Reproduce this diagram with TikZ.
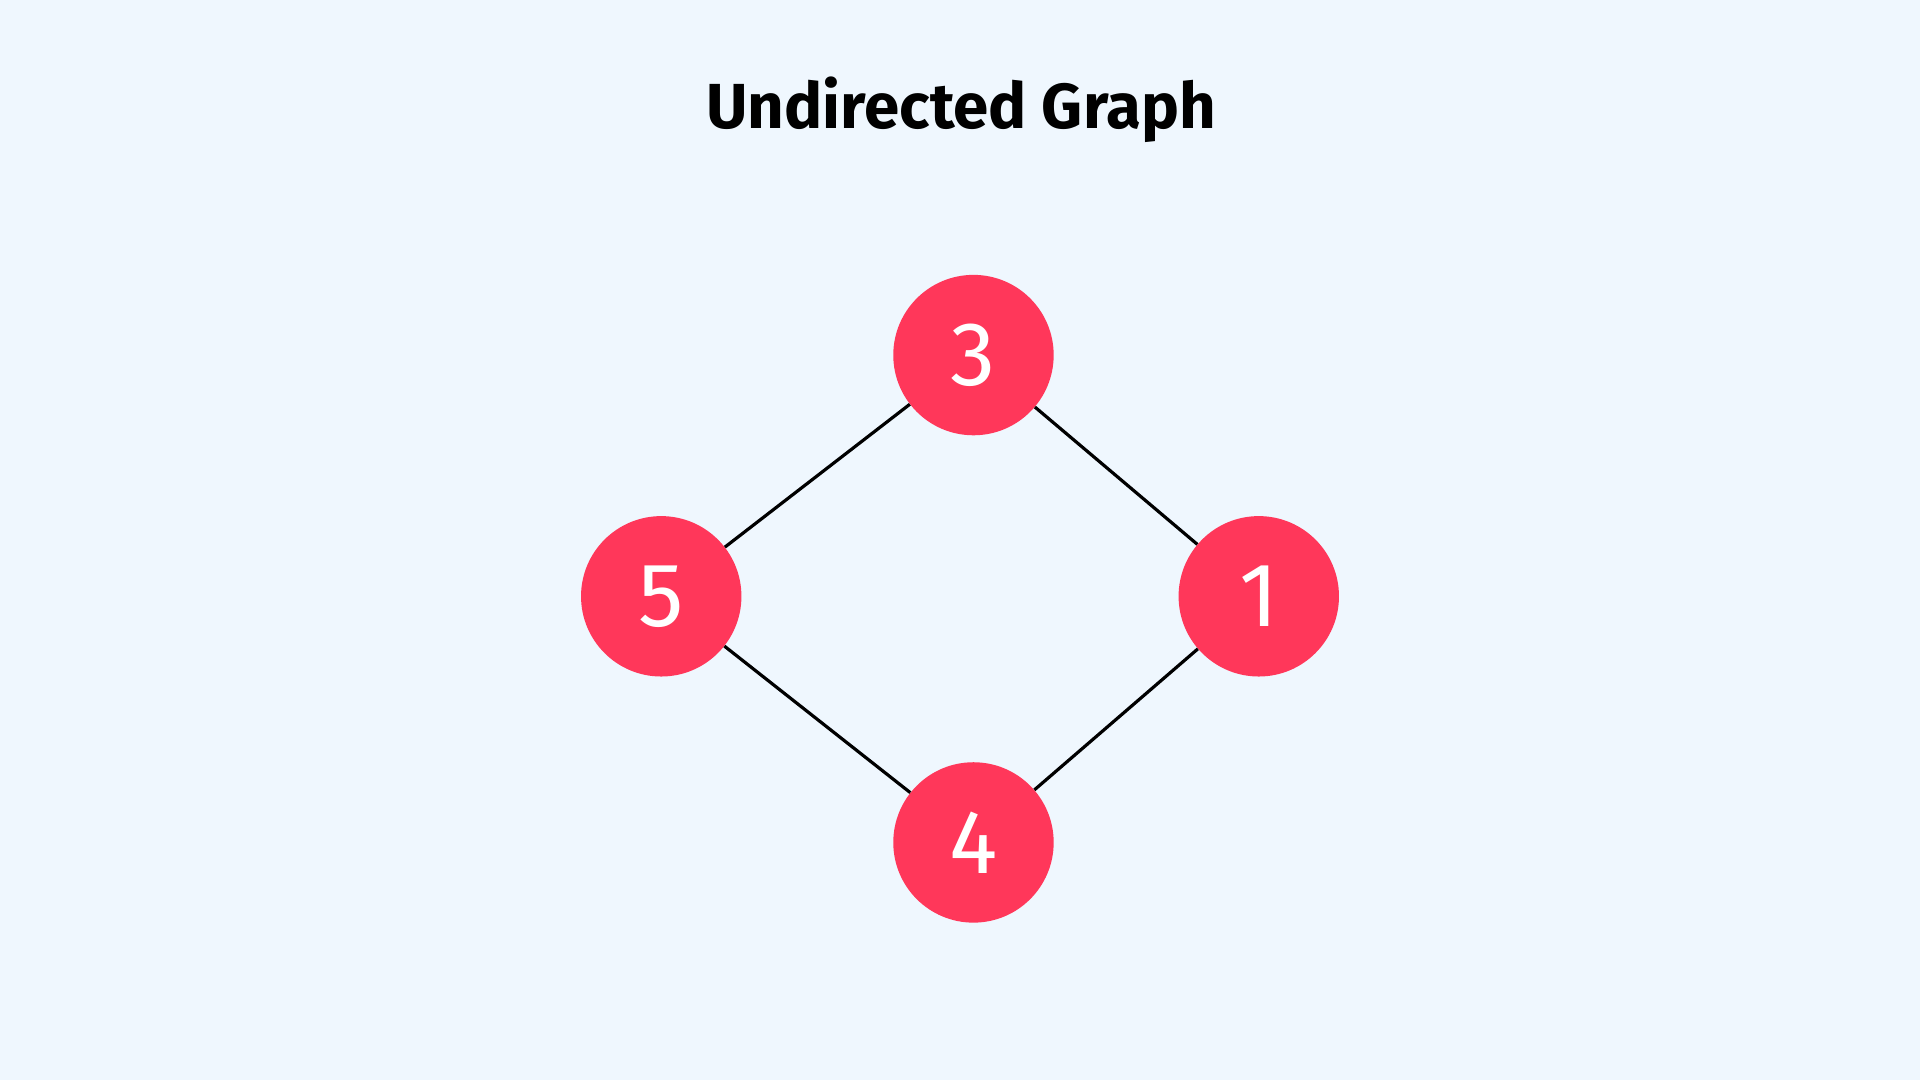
\documentclass[tikz,border=0pt]{standalone}
\usepackage{fontspec}
\setmainfont{Fira Sans}
\definecolor{bg}{HTML}{EFF7FE}
\definecolor{nodered}{HTML}{FF375A}
\begin{document}
\begin{tikzpicture}[x=1pt,y=1pt,
  vert/.style={circle,fill=nodered,minimum size=131pt,inner sep=0pt,text=white,font=\fontsize{74}{80}\selectfont},
  edge/.style={line width=2.6pt,black}]
\fill[bg] (0,0) rectangle (1568,882);
\useasboundingbox (0,0) rectangle (1568,882);
\node[font=\bfseries\fontsize{52}{60}\selectfont] (title) at (785,792) {Undirected Graph};
\node[vert] (n3) at (795,592) {3};
\node[vert] (n5) at (540,395) {5};
\node[vert] (n1) at (1028,395) {1};
\node[vert] (n4) at (795,194) {4};
\begin{scope}[on background layer/.style={}]
\end{scope}
\draw[edge] (n3) -- (n5);
\draw[edge] (n3) -- (n1);
\draw[edge] (n5) -- (n4);
\draw[edge] (n1) -- (n4);
\end{tikzpicture}
\end{document}
